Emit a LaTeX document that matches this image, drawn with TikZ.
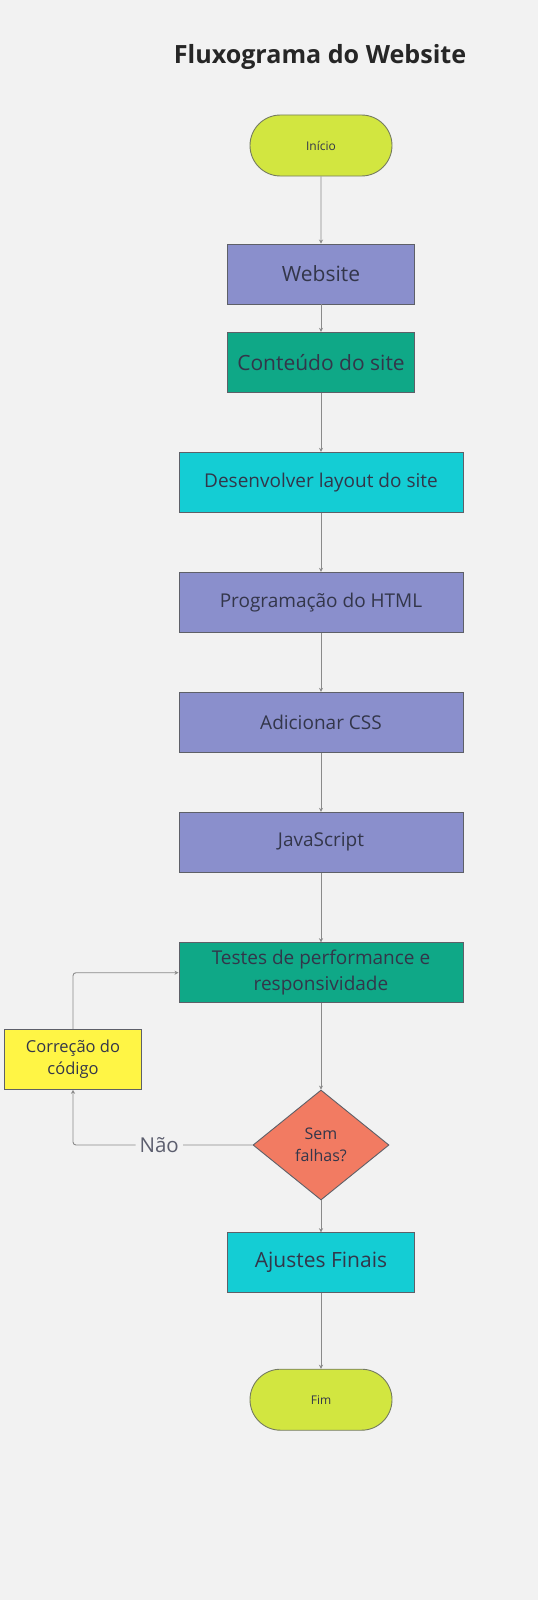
\documentclass[tikz,border=0pt]{standalone}
\usepackage{fontspec}
\setmainfont{Open Sans}
\usetikzlibrary{shapes.geometric,shapes.misc,arrows.meta}
\definecolor{bg}{HTML}{F2F2F2}
\definecolor{lime}{HTML}{D2E640}
\definecolor{lav}{HTML}{8A8FCC}
\definecolor{teal}{HTML}{0FA887}
\definecolor{cyan}{HTML}{14CDD4}
\definecolor{yel}{HTML}{FFF545}
\definecolor{salmon}{HTML}{F27B62}
\definecolor{txt}{HTML}{33364A}
\definecolor{edge}{HTML}{5E6068}
\definecolor{conn}{HTML}{8A8A8A}
\tikzset{
  box/.style={draw=edge, line width=0.9pt, inner sep=0pt, align=center, text=txt},
  term/.style={box, rounded rectangle, fill=lime, minimum width=142pt, minimum height=61pt, font=\fontsize{12}{14}\selectfont, draw=edge!80!lime},
  dec/.style={box, diamond, fill=salmon, minimum width=136pt, minimum height=110pt, aspect=1.236, font=\fontsize{16}{22}\selectfont},
  conn/.style={draw=conn, line width=0.9pt, -{Stealth[length=4pt,width=4pt]}},
  lab/.style={fill=bg, inner sep=4pt, text=txt!80, font=\fontsize{20.5}{24}\selectfont},
  bigtxt/.style={font=\fontsize{21}{25}\selectfont},
  midtxt/.style={font=\fontsize{19}{25.7}\selectfont}
}
\begin{document}
\begin{tikzpicture}[x=1pt,y=-1pt]
\useasboundingbox[fill=bg] (0,0) rectangle (538,1600);
\node[font=\bfseries\fontsize{25.1}{29}\selectfont, text=black!85] (title) at (320,57) {Fluxograma do Website};
\node[term] (ini) at (321,145.5) {Início};
\node[box, fill=lav, minimum width=187pt, minimum height=60pt, bigtxt] (web) at (321,274) {Website};
\node[box, fill=teal, minimum width=187pt, minimum height=60pt, bigtxt] (cont) at (321,362.3) {Conteúdo do site};
\node[box, fill=cyan, minimum width=284pt, minimum height=60pt, midtxt] (lay) at (321,482.3) {Desenvolver layout do site};
\node[box, fill=lav, minimum width=284pt, minimum height=60pt, midtxt] (html) at (321,602.3) {Programação do HTML};
\node[box, fill=lav, minimum width=284pt, minimum height=60pt, midtxt] (css) at (321,722.3) {Adicionar CSS};
\node[box, fill=lav, minimum width=284pt, minimum height=60pt, midtxt] (js) at (321,842.3) {JavaScript};
\node[box, fill=teal, minimum width=284pt, minimum height=60pt, midtxt] (test) at (321,972.7) {Testes de performance e\\responsividade};
\node[box, fill=yel, minimum width=137pt, minimum height=60pt, font=\fontsize{16.5}{21.7}\selectfont] (corr) at (73,1059.3) {Correção do\\código};
\node[dec] (sem) at (321,1145) {Sem\\falhas?};
\node[box, fill=cyan, minimum width=187pt, minimum height=60pt, bigtxt] (aj) at (321,1262.7) {Ajustes Finais};
\node[term] (fim) at (321,1399.7) {Fim};
\draw[conn] (ini) -- (web);
\draw[conn] (web) -- (cont);
\draw[conn] (cont) -- (lay);
\draw[conn] (lay) -- (html);
\draw[conn] (html) -- (css);
\draw[conn] (css) -- (js);
\draw[conn] (js) -- (test);
\draw[conn] (test) -- (sem.north);
\draw[conn] (sem) -- (aj);
\draw[conn] (aj) -- (fim);
\draw[conn, rounded corners=3pt] (sem.west) -- (corr.south |- sem.west) node[lab, pos=0.52] {Não} -- (corr.south);
\draw[conn, rounded corners=3pt] (corr.north) |- (test.west);
\end{tikzpicture}
\end{document}
